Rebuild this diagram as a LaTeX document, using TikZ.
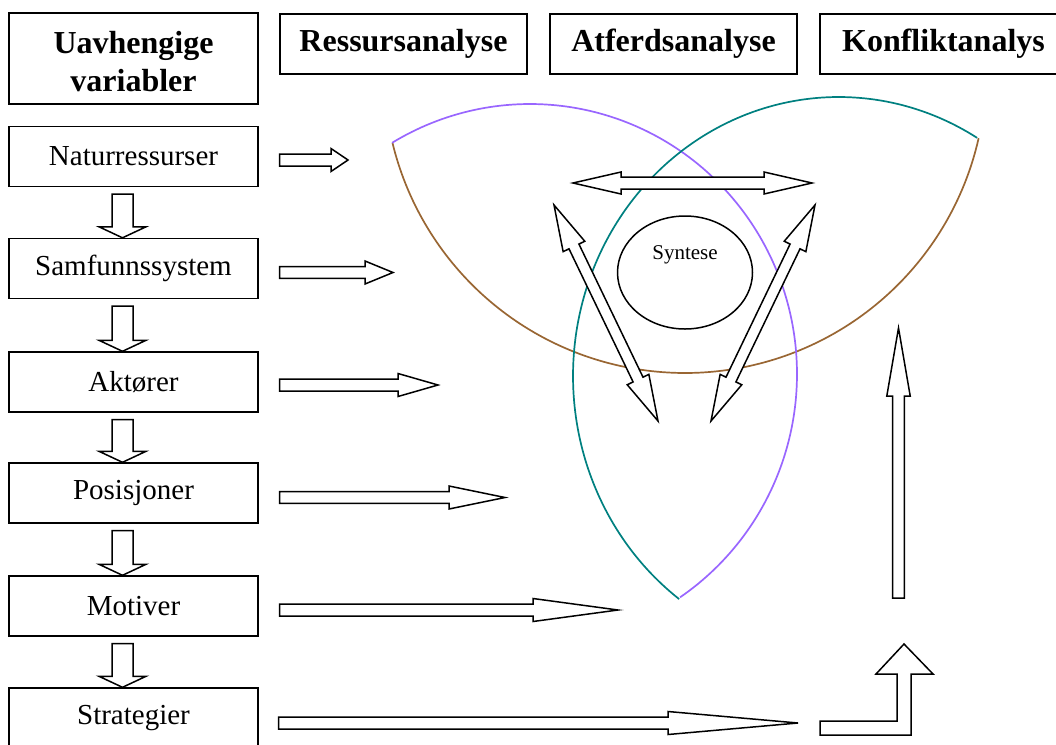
\documentclass[tikz,border=0pt]{standalone}
\usepackage{fontspec}
\setmainfont{Liberation Serif}
\usetikzlibrary{calc,shapes.geometric}
\definecolor{arcbrown}{RGB}{153,102,51}
\definecolor{arcpurple}{RGB}{153,102,255}
\definecolor{arcteal}{RGB}{0,128,128}
\tikzset{
  headbox/.style={draw=black, line width=1.6pt, minimum width=247pt, minimum height=60pt, inner sep=2pt,
    font=\bfseries\fontsize{32}{38}\selectfont, align=center},
  varbox/.style={draw=black, line width=1.4pt, minimum width=249pt, minimum height=60pt, inner sep=2pt,
    font=\fontsize{29}{34}\selectfont},
  blk/.style={draw=black, fill=white, line width=1.5pt, line join=miter},
  arcline/.style={line width=1.7pt}
}
\newcommand\blockarrow[5]{% tail, tip, shaft half, head half, head length
  \coordinate (bab) at ($(#2)!#5pt!(#1)$);
  \draw[blk] ($(#1)!#3pt!90:(#2)$) -- ($(bab)!#3pt!90:(#2)$) -- ($(bab)!#4pt!90:(#2)$) -- (#2)
    -- ($(bab)!#4pt!-90:(#2)$) -- ($(bab)!#3pt!-90:(#2)$) -- ($(#1)!#3pt!-90:(#2)$) -- cycle;}
\newcommand\dblarrow[5]{% end1, end2, shaft half, head half, head length
  \coordinate (dba) at ($(#1)!#5pt!(#2)$);
  \coordinate (dbb) at ($(#2)!#5pt!(#1)$);
  \draw[blk] (#1) -- ($(dba)!#4pt!90:(#2)$) -- ($(dba)!#3pt!90:(#2)$) -- ($(dbb)!#3pt!90:(#2)$)
    -- ($(dbb)!#4pt!90:(#2)$) -- (#2) -- ($(dbb)!#4pt!-90:(#2)$) -- ($(dbb)!#3pt!-90:(#2)$)
    -- ($(dba)!#3pt!-90:(#2)$) -- ($(dba)!#4pt!-90:(#2)$) -- cycle;}
\begin{document}
\begin{tikzpicture}[x=1pt, y=-1pt]
\useasboundingbox (0,0) rectangle (1056,744);
\clip (0,0) rectangle (1056,744);

% header boxes
\node[headbox, minimum width=249pt, minimum height=91pt] (hvar) at (133.5,58.5) {};
\node[font=\bfseries\fontsize{32}{38}\selectfont, align=center] (hvartxt) at (133.5,62) {Uavhengige\\variabler};
\node[headbox] (hres) at (403.5,44) {Ressursanalyse};
\node[headbox] (hatf) at (673.5,44) {Atferdsanalyse};
\node[headbox] (hkon) at (943.5,44) {Konfliktanalys};

% variable boxes
\node[varbox] (v1) at (133.5,156.5) {Naturressurser};
\node[varbox] (v2) at (133.5,268.5) {Samfunnssystem};
\node[varbox] (v3) at (133.5,382) {Aktører};
\node[varbox] (v4) at (133.5,493) {Posisjoner};
\node[varbox] (v5) at (133.5,606) {Motiver};
\node[varbox] (v6) at (133.5,718) {Strategier};

% arcs
\draw[arcline, arcbrown] plot[domain=12.7:166.4, samples=150] ({685+301*cos(\x)}, {72+301*sin(\x)});
\draw[arcline, arcpurple] plot[domain=-121.1:55.8, samples=150] ({530+267*cos(\x)}, {374+270*sin(\x)});
\draw[arcline, arcteal] plot[domain=-233.1:-58.6, samples=150] ({838.7+265.7*cos(\x)}, {376+279*sin(\x)});

% synthesis
\node[draw=black, line width=1.5pt, ellipse, minimum width=135pt, minimum height=113pt, inner sep=0pt] (syn) at (685,272.5) {};
\node[font=\fontsize{21}{24}\selectfont] (syntxt) at (685,255) {Syntese};

% down arrows between variable boxes
\foreach \a/\b in {v1/v2, v2/v3, v3/v4, v4/v5, v5/v6}{
  \coordinate (dt) at ($(\a.south)+(-11,7)$);
  \coordinate (dh) at ($(\b.north)+(-11,0)$);
  \blockarrow{dt}{dh}{10.5}{23.5}{11}
}

% right arrows
\coordinate (r1t) at ($(v1.east)+(21,3.5)$); \coordinate (r1h) at (348,160);
\coordinate (r2t) at ($(v2.east)+(21,4)$);   \coordinate (r2h) at (393,272.5);
\coordinate (r3t) at ($(v3.east)+(21,3)$);   \coordinate (r3h) at (438,385);
\coordinate (r4t) at ($(v4.east)+(21,4.5)$); \coordinate (r4h) at (505,497.5);
\coordinate (r5t) at ($(v5.east)+(21,4)$);   \coordinate (r5h) at (618,610);
\coordinate (r6t) at ($(v6.east)+(20,5)$);   \coordinate (r6h) at (798,723);
\blockarrow{r1t}{r1h}{6}{11.5}{17}
\blockarrow{r2t}{r2h}{5.8}{11.5}{28}
\blockarrow{r3t}{r3h}{6}{11.5}{40}
\blockarrow{r4t}{r4h}{5.8}{11.5}{56}
\blockarrow{r5t}{r5h}{6}{11.5}{85}
\blockarrow{r6t}{r6h}{6}{11.5}{130}

% double arrows around synthesis
\coordinate (h1) at (573,183); \coordinate (h2) at (812,183);
\dblarrow{h1}{h2}{6}{11}{48}
\coordinate (l1) at (554,205); \coordinate (l2) at (658,421);
\dblarrow{l1}{l2}{5.5}{12}{46}
\coordinate (k1) at (815,205); \coordinate (k2) at (711,421);
\dblarrow{k1}{k2}{5.5}{12}{46}

% vertical arrow up
\coordinate (ut) at (898.5,598); \coordinate (uh) at (898.5,328);
\blockarrow{ut}{uh}{5.8}{11.7}{68}

% bent arrow
\draw[blk] (820,735) -- (911,735) -- (911,674) -- (933,674) -- (904,644) -- (876,674) -- (897,674) -- (897,721) -- (820,721) -- cycle;
\end{tikzpicture}
\end{document}
